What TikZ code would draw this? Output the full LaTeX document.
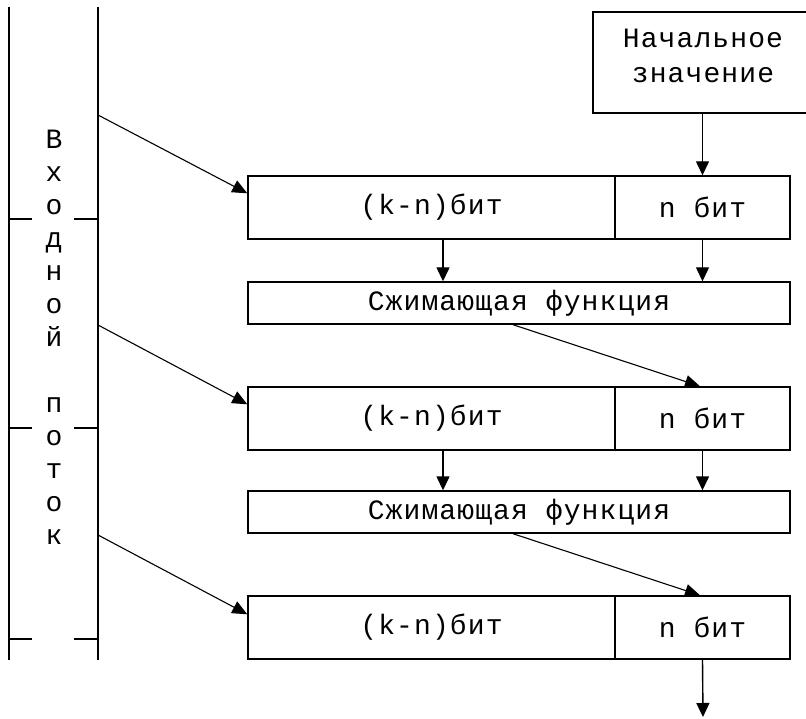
\documentclass[tikz,border=0pt]{standalone}
\usepackage{fontspec}
\usetikzlibrary{arrows.meta}
\newfontfamily\diagfont[LetterSpace=4]{Liberation Mono}
\begin{document}
\begin{tikzpicture}[x=1pt,y=-1pt,
  lbl/.style={inner sep=0pt, font=\diagfont\fontsize{28}{35}\selectfont},
  box/.style={lbl, draw, line width=1.4pt},
  letter/.style={lbl, anchor=mid},
  arr/.style={line width=1.4pt, -{Triangle[length=14pt,width=13pt]}},
  diag/.style={line width=1.1pt, -{Triangle[length=15pt,width=13pt]}},
  frame/.style={line width=1.6pt}]
\useasboundingbox (0,0) rectangle (806,719);
\clip (0,0) rectangle (806,719);
% input stream column
\draw[frame] (9,7) -- (9,660) (98,7) -- (98,660);
\foreach \y in {219,428,639}
  \draw[frame] (9,\y) -- (32,\y) (74,\y) -- (98,\y);
\foreach \c [count=\i from 0] in {В,х,о,д,н,о,й,{},п,о,т,о,к}
  \node[letter] (v\i) at (54,{146+33*\i}) {\c};
\coordinate (in1) at (98,115);
\coordinate (in2) at (98,325);
\coordinate (in3) at (98,535);
% initial value
\node[box, minimum width=215, minimum height=101] (init) at (700.5,62.5) {};
\node[lbl, align=center] (inittext) at (703,56) {Начальное\\значение};
% rows
\node[box, minimum width=367, minimum height=63] (r1L) at (431.5,207.5) {(k-n)бит};
\node[box, minimum width=175, minimum height=63] (r1R) at (702.5,207.5) {n бит};
\node[box, minimum width=542, minimum height=42] (c1) at (519,303) {Сжимающая функция};
\node[box, minimum width=367, minimum height=63] (r2L) at (431.5,418.5) {(k-n)бит};
\node[box, minimum width=175, minimum height=63] (r2R) at (702.5,418.5) {n бит};
\node[box, minimum width=542, minimum height=42] (c2) at (519,512) {Сжимающая функция};
\node[box, minimum width=367, minimum height=63] (r3L) at (431.5,627.5) {(k-n)бит};
\node[box, minimum width=175, minimum height=63] (r3R) at (702.5,627.5) {n бит};
\coordinate (out) at (703,717);
% connectors
\draw[arr] (r1R.north |- init.south) -- (r1R.north);
\draw[diag] (in1) -- ([yshift=-18pt]r1L.north west);
\draw[diag] (in2) -- ([yshift=-18pt]r2L.north west);
\draw[diag] (in3) -- ([yshift=-19pt]r3L.north west);
\draw[arr] ([xshift=11.5pt]r1L.south) -- ([xshift=11.5pt]r1L.south |- c1.north);
\draw[arr] (r1R.south) -- (r1R.south |- c1.north);
\draw[arr] ([xshift=11.5pt]r2L.south) -- ([xshift=11.5pt]r2L.south |- c2.north);
\draw[arr] (r2R.south) -- (r2R.south |- c2.north);
\draw[diag] ([xshift=-6pt]c1.south) -- ([xshift=-2.5pt]r2R.north);
\draw[diag] ([xshift=-6pt]c2.south) -- ([xshift=-2.5pt]r3R.north);
\draw[arr] (r3R.south) -- (out);
\end{tikzpicture}
\end{document}
